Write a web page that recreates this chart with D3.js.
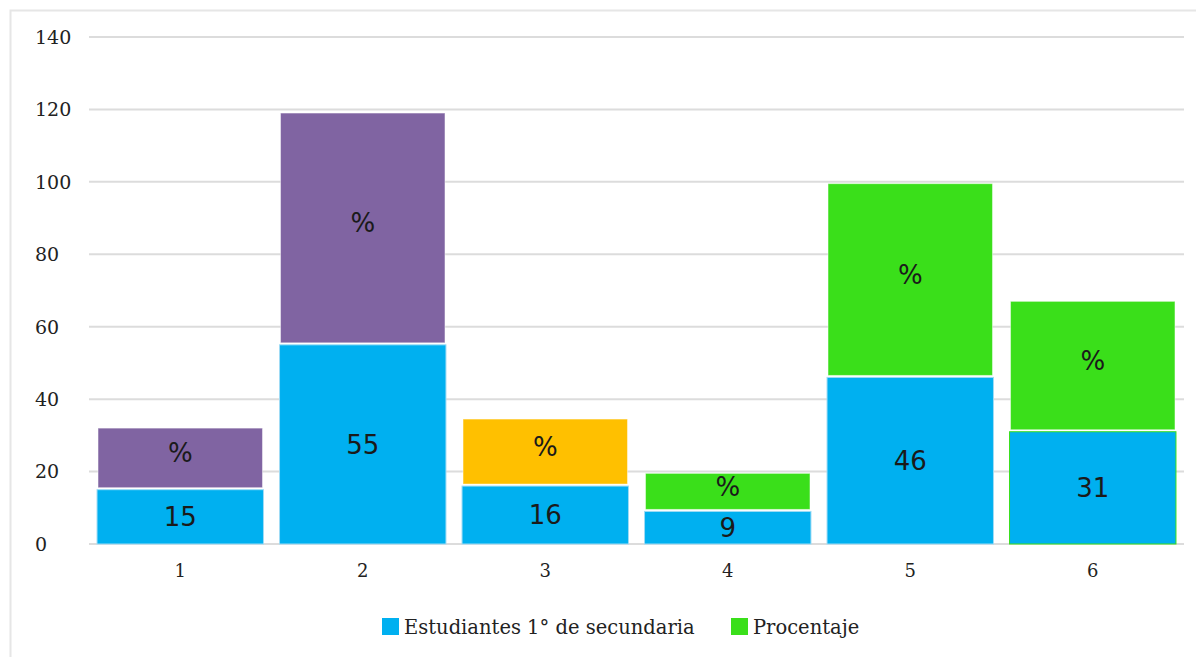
<!DOCTYPE html>
<html>
<head>
<meta charset="utf-8">
<script src="https://cdn.jsdelivr.net/npm/d3@7"></script>
<style>
  html, body { margin: 0; padding: 0; background: #fff; }
  svg { display: block; }
</style>
</head>
<body>
<svg id="chart" width="1196" height="657"></svg>
<script>
// Categories and series
const categories = ["1", "2", "3", "4", "5", "6"];
const estudiantes = [15, 55, 16, 9, 46, 31];
const porcentaje = [17, 64, 18.5, 10.5, 53.5, 36];
const porcentajeLabels = ["%", "%", "%", "%", "%", "%"];
const yTicks = [0, 20, 40, 60, 80, 100, 120, 140];
const seriesNames = ["Estudiantes 1° de secundaria", "Procentaje"];

// Colours
const blue = "#00B0F0";
const topColors = ["#8064A2", "#8064A2", "#FFC000", "#3ADF1A", "#3ADF1A", "#3ADF1A"];
const legendColors = [blue, "#3ADF1A"];

const svg = d3.select("#chart");
const W = 1196, H = 657;
const plotLeft = 89, plotRight = 1184;

// outer frame
svg.append("rect")
  .attr("x", 10.5).attr("y", 10.5)
  .attr("width", W + 20).attr("height", H + 20)
  .attr("fill", "none").attr("stroke", "#e6e6e6").attr("stroke-width", 2);

const x = d3.scaleBand()
  .domain(categories)
  .range([plotLeft, plotRight])
  .paddingInner(0.088).paddingOuter(0.044);

const y = d3.scaleLinear()
  .domain([0, 140])
  .range([544, 37]);

// gridlines
svg.append("g")
  .selectAll("line")
  .data(yTicks)
  .join("line")
  .attr("x1", plotLeft).attr("x2", plotRight)
  .attr("y1", d => y(d)).attr("y2", d => y(d))
  .attr("stroke", "#dcdcdc").attr("stroke-width", 2);

// y tick labels (left aligned)
svg.append("g")
  .selectAll("text")
  .data(yTicks)
  .join("text")
  .attr("x", 35)
  .attr("y", d => y(d))
  .attr("dy", "0.36em")
  .attr("font-family", "DejaVu Serif, serif")
  .attr("font-size", 19)
  .attr("fill", "#222")
  .text(d => d);

// x axis labels
const xAxis = d3.axisBottom(x).tickSize(0).tickPadding(20);
const gx = svg.append("g").attr("transform", `translate(0,${y(0)})`).call(xAxis);
gx.select(".domain").remove();
gx.selectAll("text")
  .attr("font-family", "DejaVu Serif, serif")
  .attr("font-size", 18)
  .attr("fill", "#222");

// stacked data
const rows = categories.map((c, i) => ({
  cat: c, a: estudiantes[i], b: porcentaje[i], i
}));

// bottom segment
const bars = svg.append("g");
bars.selectAll("rect.base")
  .data(rows)
  .join("rect")
  .attr("class", "base")
  .attr("x", d => x(d.cat))
  .attr("width", x.bandwidth())
  .attr("y", d => y(d.a))
  .attr("height", d => y(0) - y(d.a))
  .attr("fill", blue)
  .attr("stroke", d => d.i === 5 ? "#3ADF1A" : "#9fdcf5")
  .attr("stroke-width", 1);

// top segment
bars.selectAll("rect.top")
  .data(rows)
  .join("rect")
  .attr("class", "top")
  .attr("x", d => x(d.cat) + 1)
  .attr("width", x.bandwidth() - 2)
  .attr("y", d => y(d.a + d.b))
  .attr("height", d => y(d.a) - y(d.a + d.b) - 2)
  .attr("fill", d => topColors[d.i])
  .attr("stroke", "rgba(255,255,255,0.45)")
  .attr("stroke-width", 1);

// value labels
const labels = svg.append("g")
  .attr("font-family", "DejaVu Sans, sans-serif")
  .attr("font-size", 26)
  .attr("fill", "#1a1a1a")
  .attr("text-anchor", "middle");

labels.selectAll("text.a")
  .data(rows)
  .join("text")
  .attr("class", "a")
  .attr("x", d => x(d.cat) + x.bandwidth() / 2)
  .attr("y", d => (y(0) + y(d.a)) / 2)
  .attr("dy", "0.36em")
  .text(d => d.a);

labels.selectAll("text.b")
  .data(rows)
  .join("text")
  .attr("class", "b")
  .attr("x", d => x(d.cat) + x.bandwidth() / 2)
  .attr("y", d => (y(d.a) + y(d.a + d.b)) / 2 - 6)
  .attr("dy", "0.36em")
  .text(d => porcentajeLabels[d.i]);

// legend
const legend = svg.append("g").attr("transform", "translate(0,627)");
const legendX = [382, 731];
seriesNames.forEach((name, i) => {
  legend.append("rect")
    .attr("x", legendX[i]).attr("y", -9)
    .attr("width", 17).attr("height", 17)
    .attr("fill", legendColors[i]);
  legend.append("text")
    .attr("x", legendX[i] + 22).attr("y", 0)
    .attr("dy", "0.36em")
    .attr("font-family", "DejaVu Serif, serif")
    .attr("font-size", 19.5)
    .attr("fill", "#222")
    .text(name);
});
</script>
</body>
</html>
